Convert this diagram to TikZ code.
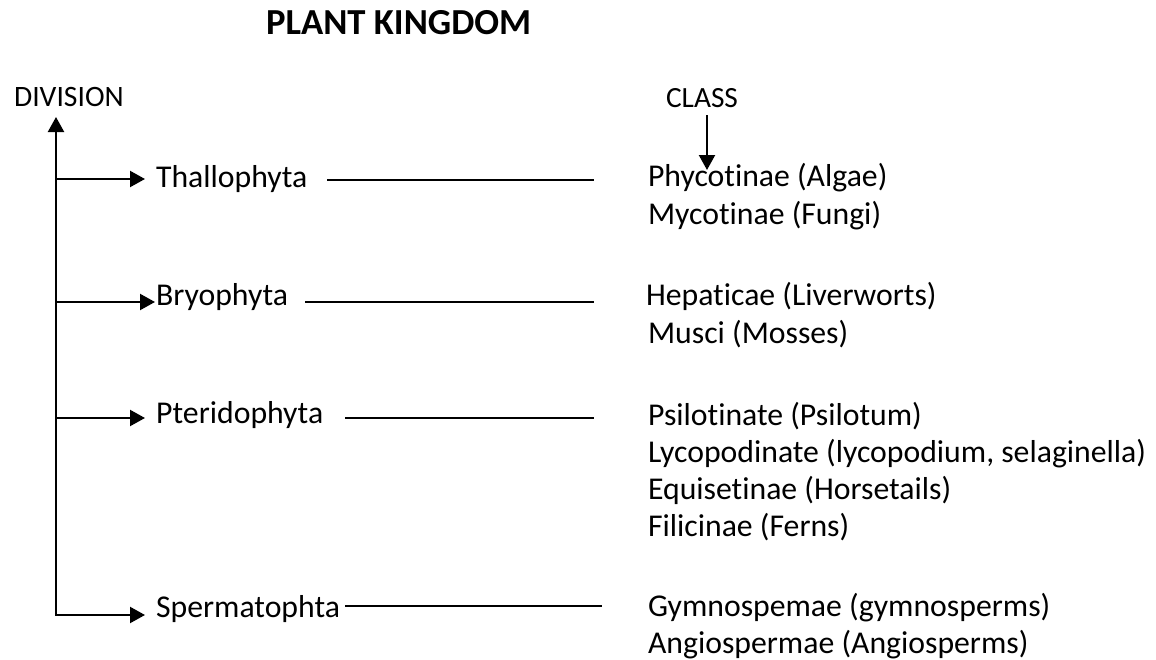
\documentclass[tikz,border=0pt]{standalone}
\usepackage{fontspec}
\setmainfont{Carlito}[Ligatures=NoCommon]
\usetikzlibrary{arrows.meta}

\begin{document}
\begin{tikzpicture}[x=0.75pt, y=-0.75pt, line width=1.6pt,
    every node/.style={font=\fontsize{23.8}{28.6}\selectfont, inner sep=0pt, anchor=base west},
    arr/.style={-{Triangle[length=11.25pt, width=12pt]}},
    link/.style={line width=1.4pt}]
    \useasboundingbox (0,0) rectangle (1156,660);

    % Headings
    \node[font=\fontsize{27.5}{33}\selectfont\bfseries] (title) at (265,35) {PLANT KINGDOM};
    \node[font=\fontsize{22.2}{26.6}\selectfont] (division) at (13,107) {DIVISION};
    \node[font=\fontsize{22}{26.4}\selectfont] (class) at (665,108) {CLASS};

    % Main stem with the last branch
    \coordinate (stemtop) at (56,117);
    \coordinate (spermin) at (145,615);
    \draw[{Triangle[length=11.25pt, width=12pt]}-{Triangle[length=11.25pt, width=12pt]}]
        (stemtop) |- (spermin);

    % Class arrow
    \coordinate (classtop) at (707,115);
    \coordinate (classbot) at (707,170);
    \draw[arr] (classtop) -- (classbot);

    % Thallophyta
    \node (thal) at (155,187) {Thallophyta};
    \coordinate (thalin) at (145,179);
    \coordinate (thalA) at (327,180);
    \coordinate (thalB) at (594,180);
    \draw[arr] (stemtop |- thalin) -- (thalin);
    \draw[link] (thalA) -- (thalB);
    \node (phyco) at (647,186) {Phycotinae (Algae)};
    \node (myco) at (647,224) {Mycotinae (Fungi)};

    % Bryophyta
    \node (bryo) at (155,305) {Bryophyta};
    \coordinate (bryoin) at (155,302);
    \coordinate (bryoA) at (305,302);
    \coordinate (bryoB) at (594,302);
    \draw[arr] (stemtop |- bryoin) -- (bryoin);
    \draw[link] (bryoA) -- (bryoB);
    \node (hepat) at (645,305) {Hepaticae (Liverworts)};
    \node (musci) at (647,343) {Musci (Mosses)};

    % Pteridophyta
    \node (pterido) at (155,423) {Pteridophyta};
    \coordinate (pteridoin) at (145,418);
    \coordinate (pteridoA) at (345,418);
    \coordinate (pteridoB) at (594,418);
    \draw[arr] (stemtop |- pteridoin) -- (pteridoin);
    \draw[link] (pteridoA) -- (pteridoB);
    \node (psilo) at (647,425) {Psilotinate (Psilotum)};
    \node (lyco) at (647,462) {Lycopodinate (lycopodium, selaginella)};
    \node (equi) at (647,499) {Equisetinae (Horsetails)};
    \node (fili) at (647,536) {Filicinae (Ferns)};

    % Spermatophta
    \node (sperm) at (155,617) {Spermatophta};
    \coordinate (spermA) at (345,606);
    \coordinate (spermB) at (602,606);
    \draw[link] (spermA) -- (spermB);
    \node (gymno) at (647,616) {Gymnospemae (gymnosperms)};
    \node (angio) at (647,653) {Angiospermae (Angiosperms)};
\end{tikzpicture}
\end{document}
